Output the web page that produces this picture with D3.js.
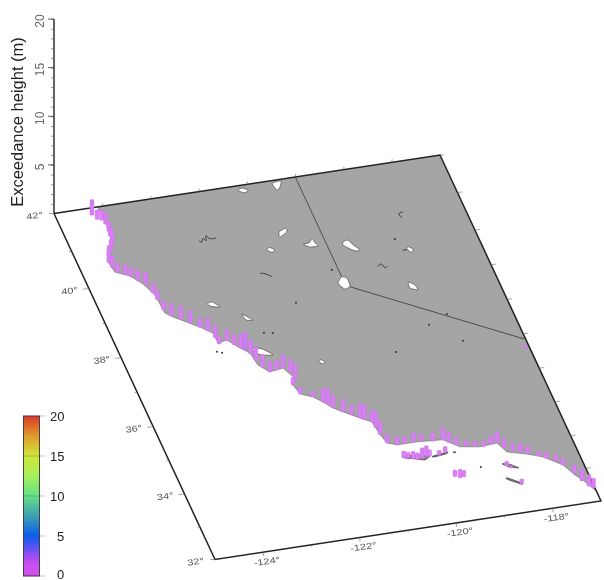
<!DOCTYPE html>
<html><head><meta charset="utf-8">
<style>html,body{margin:0;padding:0;background:#fff}svg{display:block;font-family:"Liberation Sans",Arial,sans-serif}</style>
<script src="https://cdn.jsdelivr.net/npm/d3@7"></script></head>
<body><svg id="c" width="604" height="580"></svg>
<script>
// ---- data (lon, lat, metres) ----
const lonExtent=[-125,-117], latExtent=[32,42], zExtent=[0,20];
const lonTickLabels=[-124,-122,-120,-118];
const latTickLabels=[32,34,36,38,40,42];
const latTickFractions=[0,0.189,0.384,0.583,0.783,1];
const zTickLabels=[5,10,15,20];
const barTickLabels=[0,5,10,15,20];
const colorStops=[0,1.5,2.5,5,7.5,10,12.5,15,17.5,20];
const colorValues=["#d34ff0","#c84ff0","#9a4df2","#0a5cf0","#3f9fb0","#63e086","#a6f05a","#cfe838","#e09a2c","#e0362a"];
const coast=[[-124.10,42.0],[-124.07,41.67],[-124.09,41.39],[-124.14,40.97],[-124.30,40.68],[-124.39,40.47],[-124.35,40.17],[-124.09,40.00],[-123.91,39.73],[-123.78,39.39],[-123.75,38.86],[-123.63,38.72],[-123.20,38.34],[-123.00,38.12],[-122.99,37.83],[-122.79,37.88],[-122.61,37.61],[-122.46,37.43],[-122.42,37.08],[-122.25,36.84],[-121.96,36.89],[-121.82,36.57],[-121.92,36.39],[-121.86,36.12],[-121.64,35.99],[-121.49,35.81],[-121.35,35.61],[-121.19,35.46],[-120.92,35.23],[-120.72,35.07],[-120.68,34.69],[-120.62,34.44],[-120.44,34.35],[-120.03,34.35],[-119.51,34.30],[-119.24,34.04],[-118.86,33.96],[-118.49,33.99],[-118.38,33.71],[-118.01,33.57],[-117.73,33.43],[-117.41,33.13],[-117.27,32.81],[-117.16,32.64],[-117.02,32.33],[-117,32.3]];
const landCorners=[[-117,42]];
const border=[[-120,42],[-120,39.12]];
const border2=[[-119.93,38.81],[-117.03,36.69]];
const lakes=[
[[-120.50,41.93],[-120.31,41.95],[-120.40,41.77],[-120.47,41.72],[-120.50,41.82]],
[[-121.23,41.87],[-121.13,41.92],[-121.03,41.83],[-121.13,41.78]],
[[-120.64,40.66],[-120.66,40.55],[-120.84,40.44],[-120.81,40.58]],
[[-121.21,40.15],[-121.13,40.20],[-121.05,40.11],[-121.13,40.06]],
[[-120.45,40.16],[-120.33,40.16],[-120.23,40.26],[-120.21,40.14],[-120.18,40.04],[-120.35,40.05]],
[[-119.66,40.05],[-119.55,40.08],[-119.49,39.93],[-119.40,39.76],[-119.51,39.76],[-119.62,39.87],[-119.69,39.97]],
[[-120.00,39.11],[-119.91,39.06],[-119.92,38.83],[-120.05,38.77],[-120.13,38.96]],
[[-118.49,39.60],[-118.43,39.65],[-118.37,39.56],[-118.43,39.49]],
[[-118.76,38.70],[-118.66,38.60],[-118.64,38.45],[-118.78,38.53]],
[[-122.85,38.93],[-122.74,38.97],[-122.63,38.80],[-122.78,38.84]],
[[-122.27,38.52],[-122.18,38.41],[-122.11,38.31],[-122.24,38.34]],
[[-122.36,37.56],[-122.19,37.49],[-122.03,37.29],[-122.25,37.33],[-122.38,37.44]],
[[-121.21,36.92],[-121.15,36.96],[-121.09,36.89],[-121.15,36.84]]
];
const squiggles=[
[[-121.55,39.55],[-121.44,39.50],[-121.35,39.40]],
[[-122.44,40.67],[-122.40,40.62],[-122.34,40.72],[-122.30,40.64],[-122.26,40.78],[-122.21,40.68],[-122.08,40.68]],
[[-118.23,40.62],[-118.33,40.58],[-118.30,40.46]],
[[-118.58,39.58],[-118.49,39.58]],
[[-119.22,39.24],[-119.12,39.30],[-119.08,39.18],[-119.02,39.22]]
];
const dots=[[-118.63,39.92],[-120.13,39.34],[-118.30,37.68],[-118.74,37.46],[-118.23,36.89],[-119.63,36.86],[-121.12,38.60],[-122.01,37.92],[-121.84,37.88],[-123.09,37.60],[-123.00,37.55],[-119.02,33.41]];
const islands=[
[[-120.43,34.03],[-120.19,34.00],[-119.91,33.92],[-120.04,33.83],[-120.22,33.90],[-120.41,33.96]],
[[-119.85,33.90],[-119.54,33.95],[-119.56,33.91],[-119.84,33.87]],
[[-119.42,33.93],[-119.37,33.92],[-119.38,33.90],[-119.42,33.91]],
[[-118.58,33.41],[-118.43,33.36],[-118.29,33.23],[-118.46,33.29]],
[[-118.61,33.01],[-118.37,32.81],[-118.39,32.78],[-118.62,32.97]]
];
const lons=[-124.28,-124.22,-124.14,-124.10,-124.10,-124.12,-124.14,-124.22,-124.32,-124.38,-124.36,-124.30,-124.17,-124.08,-123.98,-123.87,-123.80,-123.78,-123.75,-123.65,-123.50,-123.35,-123.20,-123.08,-123.00,-122.98,-122.80,-122.70,-122.60,-122.53,-122.46,-122.42,-122.35,-122.25,-122.10,-121.96,-121.85,-121.82,-121.92,-121.86,-121.64,-121.49,-121.42,-121.35,-121.19,-121.05,-120.92,-120.85,-120.72,-120.70,-120.68,-120.62,-120.44,-120.28,-120.10,-119.95,-119.72,-119.51,-119.42,-119.30,-119.12,-118.95,-118.78,-118.62,-118.49,-118.40,-118.25,-118.12,-118.00,-117.80,-117.68,-117.52,-117.41,-117.27,-117.19,-117.10,-117.03,-117.09,-120.43,-120.35,-120.26,-120.18,-120.08,-119.98,-119.92,-119.72,-119.58,-119.61,-119.52,-119.44,-118.51,-118.45,-118.38];
const lats=[41.80,41.66,41.62,41.50,41.30,41.15,40.97,40.80,40.62,40.45,40.30,40.15,40.06,39.98,39.84,39.70,39.45,39.25,38.95,38.75,38.62,38.48,38.32,38.20,37.98,37.80,37.85,37.72,37.60,37.53,37.40,37.20,37.00,36.84,36.86,36.89,36.75,36.57,36.39,36.12,35.99,35.81,35.72,35.61,35.46,35.35,35.23,35.17,35.07,34.90,34.70,34.44,34.35,34.36,34.35,34.34,34.30,34.30,34.20,34.10,34.02,33.98,33.95,33.98,33.99,33.82,33.72,33.65,33.57,33.47,33.38,33.25,33.13,32.85,32.62,32.45,32.38,36.44,33.97,33.95,33.90,33.87,33.88,33.92,33.90,33.90,33.95,33.25,33.20,33.21,33.33,33.26,32.79];
const heights=[1.6,1.0,1.1,1.1,1.0,1.0,1.2,1.0,1.1,1.3,1.2,0.9,1.0,1.0,1.1,1.3,1.0,1.0,1.0,1.3,1.4,1.3,1.0,1.3,1.3,0.8,1.2,1.0,1.4,1.9,1.5,1.4,1.3,1.1,1.0,1.4,1.3,1.4,0.8,0.7,0.6,1.4,1.6,1.3,1.3,1.0,1.5,1.5,1.2,1.6,1.3,0.9,0.9,0.7,1.0,0.8,0.9,1.3,1.1,0.8,0.6,0.6,0.6,0.9,1.2,1.0,0.7,0.9,0.8,0.5,0.6,0.7,0.7,0.9,1.3,1.2,1.0,0.3,0.7,0.6,0.8,0.7,1.1,1.1,0.7,0.5,0.6,0.7,0.9,0.7,0.5,0.2,0.5];

// ---- scales ----
const svg=d3.select("#c");
const sx=d3.scaleLinear().domain(lonExtent).range([0,1]);
const sy=d3.scaleLinear().domain(latExtent).range([0,1]);
const tickLat=d3.scaleLinear().domain(latTickLabels).range(latTickFractions);
const ox=215,oy=559.5,ex=[386,-58.5],ey=[-161,-346];
const X=(lon,lat)=>ox+sx(lon)*ex[0]+sy(lat)*ey[0];
const Y=(lon,lat)=>oy+sx(lon)*ex[1]+sy(lat)*ey[1];
const TX=(lon,lat)=>ox+sx(lon)*ex[0]+tickLat(lat)*ey[0];
const TY=(lon,lat)=>oy+sx(lon)*ex[1]+tickLat(lat)*ey[1];
const corner=[X(-125,42),Y(-125,42)];
const z=d3.scaleLinear().domain(zExtent).range([corner[1],19]);
const zh=v=>corner[1]-z(v);
const color=d3.scaleLinear().domain(colorStops).range(colorValues);
const line=d3.line(d=>X(d[0],d[1]),d=>Y(d[0],d[1]));
const blob=d3.line(d=>X(d[0],d[1]),d=>Y(d[0],d[1])).curve(d3.curveCardinalClosed.tension(0.4));
const soft=d3.line(d=>X(d[0],d[1]),d=>Y(d[0],d[1])).curve(d3.curveCatmullRom);
const g=svg.append("g").style("filter","blur(0.6px)");

// land
const land=coast.concat(landCorners);
g.append("path").attr("d",line(land)+"Z").attr("fill","#a5a5a5");
g.append("path").attr("d",line(coast)).attr("fill","none").attr("stroke","#555").attr("stroke-width",.5);
g.append("path").attr("d",line(border)).attr("fill","none").attr("stroke","#444").attr("stroke-width",.9);
g.append("path").attr("d",line(border2)).attr("fill","none").attr("stroke","#444").attr("stroke-width",.9);
g.selectAll(".lake").data(lakes).join("path").attr("d",blob).attr("fill","#fff").attr("stroke","#333").attr("stroke-width",.6);
g.selectAll(".isl").data(islands).join("path").attr("d",blob).attr("fill","#888").attr("stroke","#333").attr("stroke-width",.7);
g.selectAll(".sq").data(squiggles).join("path").attr("d",soft).attr("fill","none").attr("stroke","#333").attr("stroke-width",.9);
g.selectAll(".dot").data(dots).join("circle").attr("cx",d=>X(d[0],d[1])).attr("cy",d=>Y(d[0],d[1])).attr("r",1).attr("fill","#333");

// frame
const frame=[[-125,42],[-125,32],[-117,32],[-117,42],[-125,42]];
g.append("path").attr("d",line(frame)).attr("fill","none").attr("stroke","#222").attr("stroke-width",1.5);
g.append("line").attr("x1",corner[0]).attr("x2",corner[0]).attr("y1",z(0)).attr("y2",z(20)).attr("stroke","#222").attr("stroke-width",1.4);

// z axis
const zAxis=d3.axisLeft(z).tickValues(d3.range(1,21)).tickSize(3).tickFormat("");
g.append("g").attr("transform",`translate(${corner[0]},0)`).call(zAxis).call(a=>{a.select(".domain").remove();a.selectAll("line").attr("stroke","#555").attr("stroke-width",.6);});
g.selectAll(".zmaj").data(zTickLabels).join("line").attr("x1",corner[0]-6).attr("x2",corner[0]).attr("y1",d=>z(d)).attr("y2",d=>z(d)).attr("stroke","#333").attr("stroke-width",.8);
g.selectAll(".zl").data(zTickLabels).join("text").attr("transform",d=>`translate(44,${z(d)+2}) rotate(-90)`).attr("text-anchor","middle").attr("font-size",12).attr("fill","#666").text(d=>d);
g.append("text").attr("transform","translate(23,122) rotate(-90)").attr("text-anchor","middle").attr("font-size",16.5).attr("fill","#222").text("Exceedance height (m)");

// frame ticks
const lonMinor=d3.range(-124,-117), latMinor=d3.range(33,42);
const tickLine=(sel,data,fn)=>sel.selectAll(null).data(data).join("line").each(function(d){const t=fn(d);d3.select(this).attr("x1",t[0]).attr("y1",t[1]).attr("x2",t[2]).attr("y2",t[3]);}).attr("stroke","#666").attr("stroke-width",.6);
tickLine(g,lonMinor,d=>[X(d,42),Y(d,42),X(d,42)+.5,Y(d,42)-3]);
tickLine(g,lonMinor,d=>[X(d,32),Y(d,32),X(d,32)+.3,Y(d,32)+(lonTickLabels.includes(d)?4:2)]);
tickLine(g,latMinor,d=>[TX(-117,d),TY(-117,d),TX(-117,d)+5,TY(-117,d)-.6]);
tickLine(g,latMinor,d=>[TX(-125,d),TY(-125,d),TX(-125,d)-(latTickLabels.includes(d)?6:2.5),TY(-125,d)+.6]);
tickLine(g,[32,42],d=>[X(-125,d),Y(-125,d),X(-125,d)-5,Y(-125,d)]);
tickLine(g,[42],d=>[X(-117,d),Y(-117,d),X(-117,d)+4,Y(-117,d)]);
const deg=d=>d+"\u00B0";
g.selectAll(".la").data(latTickLabels).join("text")
 .attr("transform",d=>`translate(${TX(-125,d)-19},${TY(-125,d)+5}) rotate(-8) scale(1.3,1)`)
 .attr("text-anchor","middle").attr("font-size",8.5).attr("fill","#555").text(deg);
g.selectAll(".lo").data(lonTickLabels).join("text")
 .attr("transform",d=>`translate(${X(d,32)+4},${Y(d,32)+12}) rotate(-8) scale(1.3,1)`)
 .attr("text-anchor","middle").attr("font-size",8.5).attr("fill","#555").text(deg);

// columns
const bars=lons.map((lon,i)=>({lon,lat:lats[i],h:heights[i]}));
g.selectAll(".bar").data(bars).join("rect")
 .attr("x",d=>X(d.lon,d.lat)-2).attr("y",d=>Y(d.lon,d.lat)-zh(d.h)).attr("width",4).attr("height",d=>zh(d.h)).attr("rx",1)
 .attr("fill",d=>d3.interpolateRgb(color(d.h),"#fff")(.27)).attr("stroke","#c868ec").attr("stroke-width",.3);

// colour bar
const bar=d3.scaleLinear().domain(zExtent).range([576,416]);
const defs=svg.append("defs");
const lg=defs.append("linearGradient").attr("id","rb").attr("x1",0).attr("x2",0).attr("y1",1).attr("y2",0);
lg.selectAll("stop").data(colorStops).join("stop").attr("offset",d=>d/20).attr("stop-color",d=>color(d));
g.append("rect").attr("x",23.5).attr("y",bar(20)).attr("width",16).attr("height",bar(0)-bar(20)).attr("fill","url(#rb)").attr("stroke","#333").attr("stroke-width",.9);
g.selectAll(".bg").data(barTickLabels).join("line").attr("x1",23.5).attr("x2",45).attr("y1",d=>bar(d)).attr("y2",d=>bar(d)).attr("stroke","#555").attr("stroke-width",.5).attr("opacity",.7);
g.selectAll(".bt").data(barTickLabels).join("text").attr("x",d=>d<10?57:50).attr("y",d=>Math.min(bar(d)+5,578.5)).attr("font-size",13).attr("fill","#222").text(d=>d);
</script></body></html>
